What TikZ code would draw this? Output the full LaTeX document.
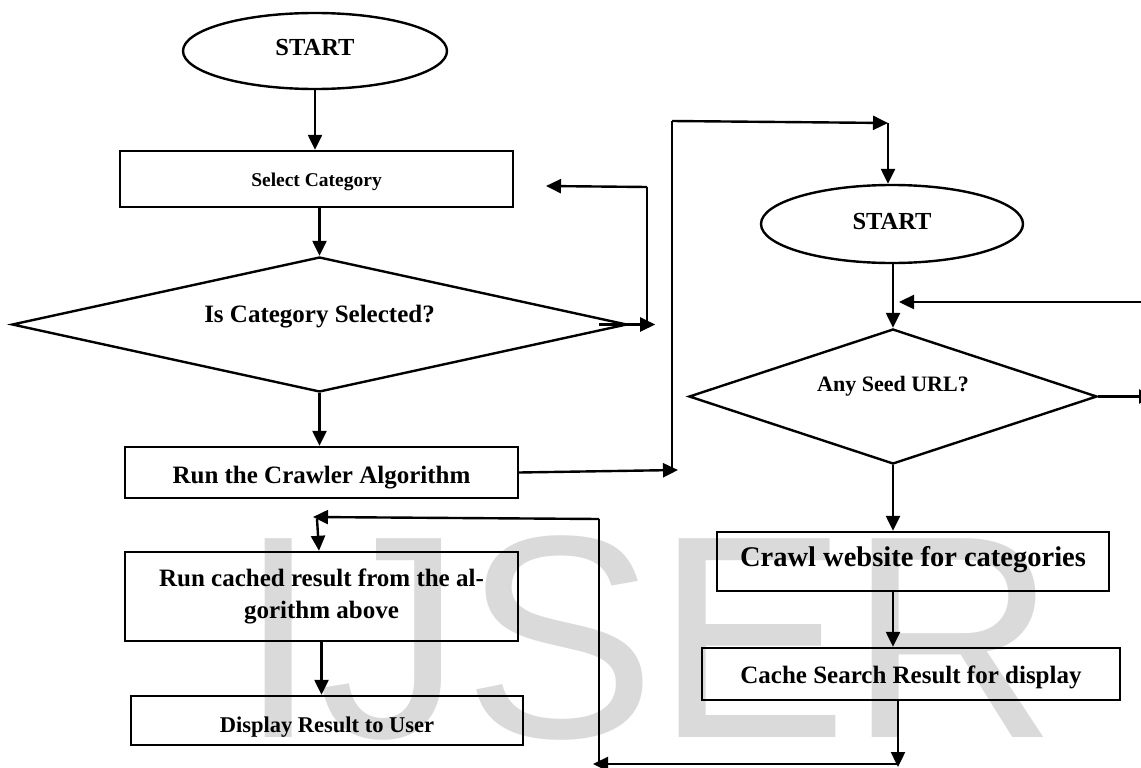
\documentclass[tikz,border=0pt]{standalone}
\usepackage{fontspec}
\setmainfont{Liberation Serif}
\newfontfamily\wmfont{Liberation Sans}
\usetikzlibrary{arrows.meta,shapes.geometric,calc}
\definecolor{wmgray}{RGB}{218,218,218}
\tikzset{
  ln/.style={line width=2.4pt},
  thinln/.style={line width=1.2pt},
  arr/.style={line width=2.4pt,-{Triangle[length=15pt,width=14pt]}},
  box/.style={draw,line width=2.4pt,rectangle,inner sep=0pt},
  oval/.style={draw,line width=2.4pt,ellipse,inner sep=0pt,font=\bfseries\fontsize{24.5}{30}\selectfont,text height=10pt,text depth=0pt},
  dia/.style={draw,line width=2.4pt,diamond,inner sep=0pt,text height=0pt},
}
\begin{document}
\begin{tikzpicture}[x=1pt,y=-1pt]
\useasboundingbox (0,0) rectangle (1141,768);
\clip (0,0) rectangle (1141,768);
% watermark
\node[anchor=base west,inner sep=0pt,text=wmgray,text height=208pt,text depth=0pt,font=\wmfont\fontsize{289}{289}\selectfont] (wm) at (238,737) {IJSER};

% left column
\node[oval,minimum width=264pt,minimum height=76pt] (s1) at (315,51) {START};
\node[box,minimum width=393pt,minimum height=56pt,text height=14pt,text depth=0pt,font=\bfseries\fontsize{19.5}{24}\selectfont] (sel) at (316.5,179) {Select Category};
\node[dia,shape aspect=4.5,minimum width=615pt,minimum height=135pt,text depth=5pt,font=\bfseries\fontsize{25}{30}\selectfont] (d1) at (319.5,324.5) {Is Category Selected?};
\node[box,minimum width=393pt,minimum height=51pt,text height=21pt,text depth=0pt,font=\bfseries\fontsize{25}{30}\selectfont] (rc) at (321.5,472.5) {Run the Crawler Algorithm};
\node[box,minimum width=393pt,minimum height=89pt,align=center,font=\bfseries\fontsize{25}{32}\selectfont] (rcache) at (321.5,596.5) {Run cached result from the al-\\gorithm above};
\node[box,minimum width=392pt,minimum height=49pt,text height=23pt,text depth=0pt,font=\bfseries\fontsize{22.5}{27}\selectfont] (disp) at (327,720.5) {Display Result to User};

% right column
\node[oval,minimum width=262pt,minimum height=78pt] (s2) at (892,224) {START};
\node[dia,shape aspect=3,minimum width=408pt,minimum height=135pt,text depth=11pt,font=\bfseries\fontsize{22}{26}\selectfont] (d2) at (893,396.5) {Any Seed URL?};
\node[box,minimum width=392pt,minimum height=59pt,text height=9pt,text depth=0pt,font=\bfseries\fontsize{28.5}{34}\selectfont] (crawl) at (913,561.5) {Crawl website for categories};
\node[box,minimum width=418pt,minimum height=52pt,text height=18pt,text depth=0pt,font=\bfseries\fontsize{25}{30}\selectfont] (cache) at (911,674) {Cache Search Result for display};

% left connectors
\draw[arr] (s1.south) -- (s1.south |- sel.north);
\draw[arr] (sel.south -| d1.north) -- (d1.north);
\draw[arr] (d1.south) -- (d1.south |- rc.north);
\coordinate (a1) at ($(d1.east)+(27,0)$);
\coordinate (a2) at (647,324.5);
\coordinate (a3) at (647,187);
\coordinate (a4) at (546,186);
\draw[arr] ([xshift=-29pt]d1.east) -- (a1);
\draw[thinln] (a2) -- (a3);
\draw[arr] (a3) -- (a4);

% crawler to second start
\coordinate (b1) at (678,470);
\coordinate (b2) at (672,470);
\coordinate (b3) at (672,121);
\coordinate (b4) at (888,123);
\draw[arr] (rc.east) -- (b1);
\draw[thinln] (b2) -- (b3);
\draw[arr] (b3) -- (b4);
\draw[arr] (b4) -- (b4 |- s2.north);

% right connectors
\draw[arr] (s2.south -| d2.north) -- (d2.north);
\coordinate (c1) at (1150,302);
\coordinate (c2) at (899,302);
\draw[arr] (c1) -- (c2);
\coordinate (c3) at (1154,396.5);
\draw[arr] (d2.east) -- (c3);
\draw[arr] (d2.south) -- (d2.south |- crawl.north);
\draw[arr] (crawl.south -| d2.south) -- (d2.south |- cache.north);

% return path
\coordinate (e1) at (898,767);
\coordinate (e2) at (898,764);
\coordinate (e3) at (593,764);
\coordinate (e4) at (599,764);
\coordinate (e5) at (599,519);
\coordinate (e6) at (313,517);
\coordinate (e7) at (317,519);
\draw[arr] (cache.south -| e1) -- (e1);
\draw[arr] (e2) -- (e3);
\draw[thinln] (e4) -- (e5);
\draw[arr] (e5) -- (e6);
\draw[arr] (e7) -- ([xshift=-2.5pt]rcache.north);
\draw[arr] (rcache.south) -- (rcache.south |- disp.north);
\end{tikzpicture}
\end{document}
